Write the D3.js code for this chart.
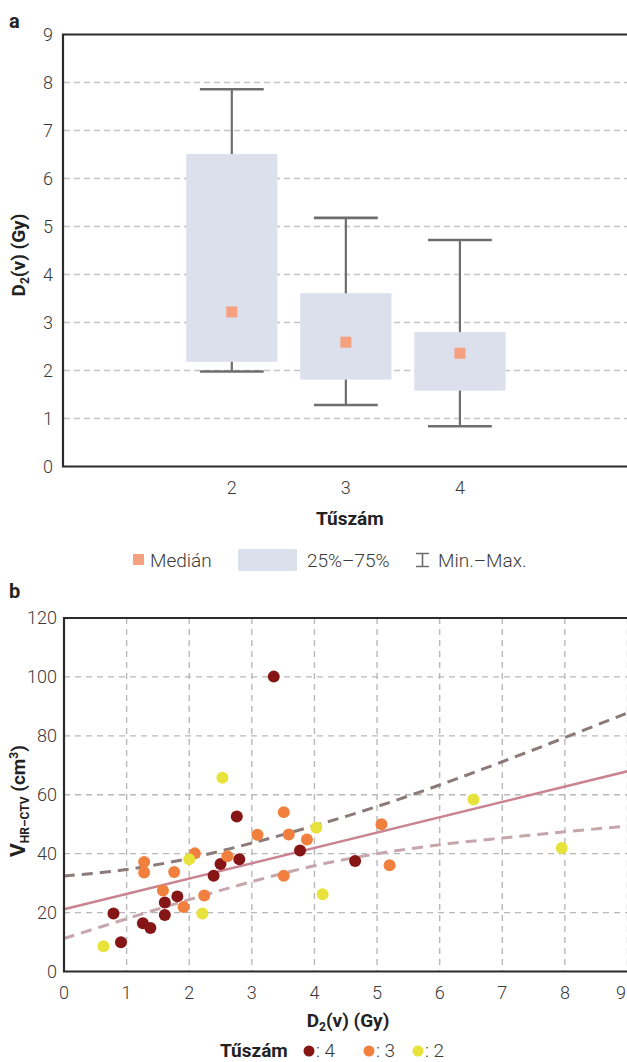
<!DOCTYPE html>
<html>
<head>
<meta charset="utf-8">
<title>D2(v) és Tűszám</title>
<script src="https://d3js.org/d3.v7.min.js"></script>
<style>
  body { margin: 0; background: #fff; }
  svg text { font-family: Roboto, 'Open Sans', sans-serif; }
  .tick-label { font-weight: 300; font-size: 18px; fill: #3a3a3a; }
  .title { font-weight: 700; font-size: 19px; fill: #222; }
</style>
</head>
<body>
<div id="chart"></div>
<script>
// panel a: box data per needle count
const boxCats = [2, 3, 4]
const boxMin = [1.98, 1.28, 0.84]
const boxQ1 = [2.18, 1.81, 1.58]
const boxMedian = [3.22, 2.59, 2.36]
const boxQ3 = [6.51, 3.61, 2.80]
const boxMax = [7.86, 5.18, 4.72]
const boxYTicks = [0, 1, 2, 3, 4, 5, 6, 7, 8, 9]

// panel b: scatter, D2(v) vs volume, by needle count
const n4D2 = [3.35, 2.76, 2.50, 2.80, 2.39, 3.77, 4.65, 1.81, 1.61, 1.61, 0.79, 1.26, 1.38, 0.91]
const n4Vol = [100.1, 52.6, 36.5, 38.1, 32.5, 41.1, 37.5, 25.5, 23.4, 19.2, 19.7, 16.4, 14.8, 9.9]
const n3D2 = [1.28, 1.28, 1.76, 2.09, 2.61, 1.58, 1.91, 2.24, 3.09, 3.51, 3.59, 3.88, 3.51, 5.07, 5.20]
const n3Vol = [37.2, 33.6, 33.8, 40.1, 39.1, 27.5, 21.9, 25.8, 46.4, 54.1, 46.5, 44.8, 32.5, 50.0, 36.1]
const n2D2 = [2.53, 2.00, 2.21, 0.63, 4.03, 4.13, 6.54, 7.95]
const n2Vol = [65.8, 38.1, 19.7, 8.6, 48.8, 26.2, 58.4, 41.9]

// regression line and band
const fitD2 = [0, 9]
const fitVol = [21.1, 68.0]
const bandD2 = [0, 1, 2, 3, 4, 5, 6, 7, 8, 9]
const bandUpper = [32.4, 34.6, 38.4, 43.6, 49.5, 56.0, 63.3, 71.2, 79.4, 87.8]
const bandLower = [11.2, 17.9, 24.4, 30.5, 35.9, 40.0, 43.0, 45.3, 47.4, 49.4]
const scatterXTicks = [0, 1, 2, 3, 4, 5, 6, 7, 8, 9]
const scatterYTicks = [0, 20, 40, 60, 80, 100, 120]

const w = 627, h = 1062
const svg = d3.select("#chart").append("svg").attr("width", w).attr("height", h)

const axisColor = "#2b2b2b"
const gridColor = "#c4c4c4"

// ---------- panel a ----------
const xA = d3.scaleLinear().domain([0.52, 5.5]).range([63, 631])
const yA = d3.scaleLinear().domain([0, 9]).range([466.5, 34.5])
const stepA = xA(3) - xA(2)

svg.append("text").attr("class", "title").attr("x", 9).attr("y", 28).style("font-size", "20px").text("a")

const gA = svg.append("g")
gA.selectAll("line.grid").data(boxYTicks.filter(d => d > 0 && d < 9)).enter().append("line")
  .attr("x1", 64).attr("x2", w).attr("y1", d => yA(d)).attr("y2", d => yA(d))
  .style("stroke", gridColor).style("stroke-width", 1.3).style("stroke-dasharray", "6,4")

const boxes = boxCats.map((c, i) => ({ c, min: boxMin[i], q1: boxQ1[i], med: boxMedian[i], q3: boxQ3[i], max: boxMax[i] }))

// whiskers
const whisk = gA.selectAll("g.whisk").data(boxes).enter().append("g")
whisk.append("line").attr("x1", d => xA(d.c)).attr("x2", d => xA(d.c))
  .attr("y1", d => yA(d.min)).attr("y2", d => yA(d.max))
  .style("stroke", "#6e6e6e").style("stroke-width", 2.2)
;["min", "max"].forEach(k => {
  whisk.append("line").attr("x1", d => xA(d.c) - stepA * 0.28).attr("x2", d => xA(d.c) + stepA * 0.28)
    .attr("y1", d => yA(d[k])).attr("y2", d => yA(d[k]))
    .style("stroke", "#6e6e6e").style("stroke-width", 2.6)
})
gA.selectAll("rect.box").data(boxes).enter().append("rect")
  .attr("x", d => xA(d.c) - stepA * 0.4).attr("width", stepA * 0.8)
  .attr("y", d => yA(d.q3)).attr("height", d => yA(d.q1) - yA(d.q3))
  .style("fill", "#dce0ec")
gA.selectAll("rect.med").data(boxes).enter().append("rect")
  .attr("x", d => xA(d.c) - 5.5).attr("y", d => yA(d.med) - 5.5)
  .attr("width", 11).attr("height", 11).style("fill", "#f5a07e")

// axes frame
gA.append("path").attr("d", `M${w},${yA(9)}H63V${yA(0)}H${w}`)
  .style("fill", "none").style("stroke", axisColor).style("stroke-width", 2.2)

gA.selectAll("text.yt").data(boxYTicks).enter().append("text").attr("class", "tick-label")
  .attr("x", 53).attr("y", d => yA(d)).attr("dy", "0.36em").attr("text-anchor", "end").text(d => d)
gA.selectAll("text.xt").data(boxCats).enter().append("text").attr("class", "tick-label")
  .attr("x", d => xA(d)).attr("y", 488).attr("dy", "0.36em").attr("text-anchor", "middle").text(d => d)

gA.append("text").attr("class", "title").attr("x", xA(3) + 4).attr("y", 518).attr("dy", "0.36em")
  .attr("text-anchor", "middle").text("Tűszám")
const yTitleA = gA.append("text").attr("class", "title").attr("text-anchor", "middle")
  .attr("transform", "translate(25,255) rotate(-90)")
yTitleA.append("tspan").text("D")
yTitleA.append("tspan").attr("dy", 4).style("font-size", "12px").text("2")
yTitleA.append("tspan").attr("dy", -4).text("(v) (Gy)")

// legend a
const legA = svg.append("g")
legA.append("rect").attr("x", 133).attr("y", 554).attr("width", 11).attr("height", 11).style("fill", "#f5a07e")
legA.append("text").attr("class", "tick-label").style("font-size", "19px").attr("x", 150).attr("y", 560).attr("dy", "0.36em").text("Medián")
legA.append("rect").attr("x", 238).attr("y", 549).attr("width", 59).attr("height", 22).style("fill", "#dce0ec")
legA.append("text").attr("class", "tick-label").style("font-size", "19px").attr("x", 307).attr("y", 560).attr("dy", "0.36em").text("25%–75%")
legA.append("path").attr("d", "M416,553.5H429M422.5,553.5V566.5M416,566.5H429")
  .style("fill", "none").style("stroke", "#6e6e6e").style("stroke-width", 1.6)
legA.append("text").attr("class", "tick-label").style("font-size", "19px").attr("x", 438).attr("y", 560).attr("dy", "0.36em").text("Min.–Max.")

// ---------- panel b ----------
const xB = d3.scaleLinear().domain([0, 9]).range([64, 627.5])
const yB = d3.scaleLinear().domain([0, 120]).range([971.5, 618])

svg.append("text").attr("class", "title").attr("x", 9).attr("y", 598).style("font-size", "20px").text("b")

const gB = svg.append("g")
gB.selectAll("line.hg").data(scatterYTicks.filter(d => d > 0 && d < 120)).enter().append("line")
  .attr("x1", 64).attr("x2", w).attr("y1", d => yB(d)).attr("y2", d => yB(d))
  .style("stroke", "#b8b8b8").style("stroke-width", 1.4).style("stroke-dasharray", "6,5")
gB.selectAll("line.vg").data(scatterXTicks.filter(d => d > 0)).enter().append("line")
  .attr("x1", d => xB(d)).attr("x2", d => xB(d)).attr("y1", yB(120)).attr("y2", yB(0))
  .style("stroke", "#b8b8b8").style("stroke-width", 1.4).style("stroke-dasharray", "6,5")

const band = (ys) => d3.line().x((d, i) => xB(bandD2[i])).y(d => yB(d)).curve(d3.curveCatmullRom)(ys)
gB.append("path").attr("d", band(bandUpper)).style("fill", "none")
  .style("stroke", "#8c7a78").style("stroke-width", 3).style("stroke-dasharray", "11,7")
gB.append("path").attr("d", band(bandLower)).style("fill", "none")
  .style("stroke", "#c6a6ab").style("stroke-width", 3).style("stroke-dasharray", "11,7")
gB.append("path").attr("d", d3.line().x((d, i) => xB(fitD2[i])).y(d => yB(d))(fitVol))
  .style("fill", "none").style("stroke", "#c98391").style("stroke-width", 2.6)

const series = [
  { xs: n4D2, ys: n4Vol, color: "#861515" },
  { xs: n3D2, ys: n3Vol, color: "#f1803f" },
  { xs: n2D2, ys: n2Vol, color: "#e8e33a" }
]
series.forEach(s => {
  gB.selectAll(null).data(s.xs).enter().append("circle")
    .attr("cx", d => xB(d)).attr("cy", (d, i) => yB(s.ys[i])).attr("r", 6)
    .style("fill", s.color)
})

gB.append("path").attr("d", `M${w},${yB(120)}H64V${yB(0)}H${w}`)
  .style("fill", "none").style("stroke", axisColor).style("stroke-width", 2.2)

gB.selectAll("text.yt").data(scatterYTicks).enter().append("text").attr("class", "tick-label")
  .attr("x", 57).attr("y", d => yB(d)).attr("dy", "0.36em").attr("text-anchor", "end").text(d => d)
gB.selectAll("text.xt").data(scatterXTicks).enter().append("text").attr("class", "tick-label")
  .attr("x", d => Math.min(xB(d), w - 6)).attr("y", 993).attr("dy", "0.36em").attr("text-anchor", "middle").text(d => d)

const xTitleB = gB.append("text").attr("class", "title").attr("x", 348).attr("y", 1020).attr("dy", "0.36em")
  .attr("text-anchor", "middle")
xTitleB.append("tspan").text("D")
xTitleB.append("tspan").attr("dy", 4).style("font-size", "12px").text("2")
xTitleB.append("tspan").attr("dy", -4).text("(v) (Gy)")

const yTitleB = gB.append("text").attr("class", "title").attr("text-anchor", "middle")
  .attr("transform", "translate(25,801) rotate(-90)")
yTitleB.append("tspan").style("font-size", "21px").text("V")
yTitleB.append("tspan").attr("dy", 4).style("font-size", "12px").text("HR–CTV")
yTitleB.append("tspan").attr("dy", -4).text(" (cm")
yTitleB.append("tspan").attr("dy", -7).style("font-size", "12px").text("3")
yTitleB.append("tspan").attr("dy", 7).text(")")

// legend b
const legB = svg.append("g")
legB.append("text").attr("class", "title").attr("x", 220).attr("y", 1050).attr("dy", "0.36em").text("Tűszám")
const legItems = [{ label: "4", x: 309, color: "#861515" }, { label: "3", x: 369, color: "#f1803f" }, { label: "2", x: 418, color: "#e8e33a" }]
legItems.forEach(d => {
  legB.append("circle").attr("cx", d.x).attr("cy", 1051).attr("r", 5.5).style("fill", d.color)
  legB.append("text").attr("class", "tick-label").style("font-size", "19px").attr("x", d.x + 7).attr("y", 1050)
    .attr("dy", "0.36em").text(": " + d.label)
})
</script>
</body>
</html>
